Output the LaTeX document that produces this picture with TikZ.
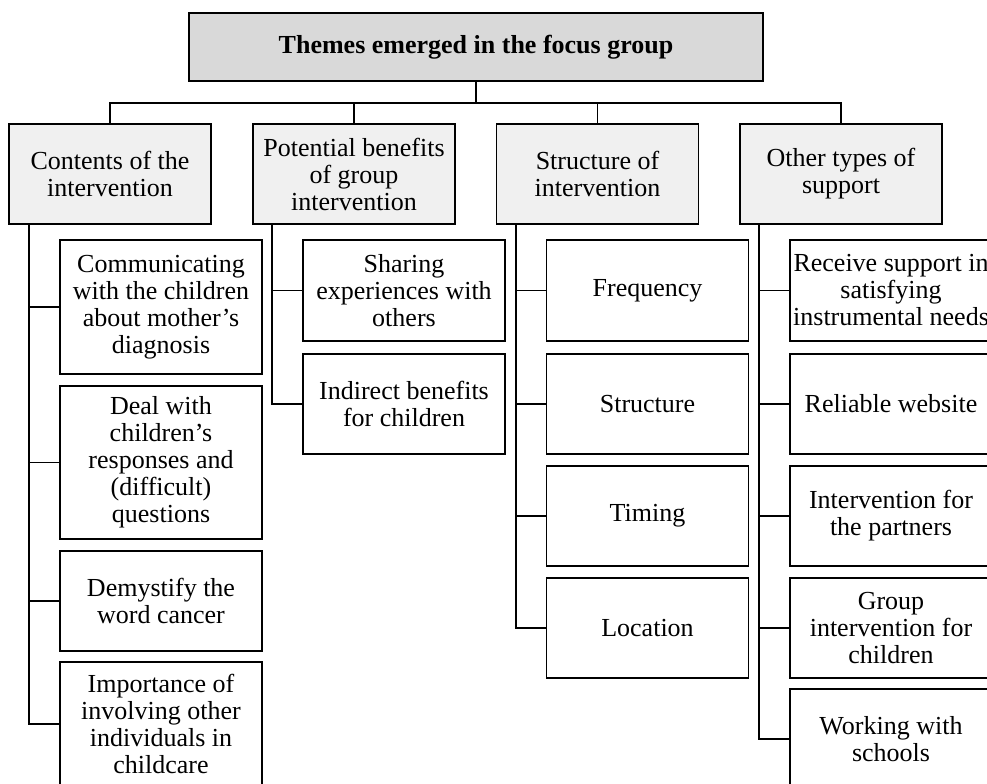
\documentclass[tikz,border=0pt]{standalone}
\usepackage{fontspec}
\setmainfont{Liberation Serif}
\usetikzlibrary{positioning}

\begin{document}
\begin{tikzpicture}[x=0.75pt, y=-0.75pt, line width=1.4pt,
	box/.style={draw, align=center, inner sep=2pt, font=\fontsize{19.5}{20.25}\selectfont},
	rootbox/.style={box, fill=black!15, minimum width=430.5pt, minimum height=51pt, font=\fontsize{19.5}{20.25}\selectfont\bfseries},
	themebox/.style={box, fill=black!6, minimum width=151.5pt, minimum height=75pt},
	itembox/.style={box, fill=white, minimum width=151.5pt, minimum height=75.5pt}]
	\path[use as bounding box, clip] (0,0) rectangle (987,783);
	% top level
	\node [rootbox] (root) at (476,47) {Themes emerged in the focus group};
	\coordinate (bus) at (476,103);
	\node [themebox] (tcont) at (110,174) {Contents of the\\intervention};
	\node [themebox] (tbenef) at (354,174) {Potential benefits\\of group\\intervention};
	\node [themebox] (tstruct) at (597.5,174) {Structure of\\intervention};
	\node [themebox] (tother) at (841,174) {Other types of\\support};
	\foreach \t in {tcont,tbenef,tstruct,tother}
		\draw (root.south) -- (bus) -| (\t.north);
	% contents
	\node [itembox, minimum height=100.5pt] (c1) at (161,307) {Communicating\\with the children\\about mother's\\diagnosis};
	\node [itembox, minimum height=114.75pt] (c2) at (161,462.5) {Deal with\\children's\\responses and\\(difficult)\\questions};
	\node [itembox] (c3) at (161,601) {Demystify the\\word cancer};
	\node [itembox, minimum height=93pt] (c4) at (161,724) {Importance of\\involving other\\individuals in\\childcare};
	\foreach \c in {c1,c2,c3,c4}
		\draw ([xshift=15.75pt]tcont.south west) |- (\c.west);
	% benefits
	\node [itembox] (b1) at (404,290.5) {Sharing\\experiences with\\others};
	\node [itembox] (b2) at (404,404) {Indirect benefits\\for children};
	\foreach \c in {b1,b2}
		\draw ([xshift=15pt]tbenef.south west) |- (\c.west);
	% structure
	\node [itembox] (s1) at (647.5,290.5) {Frequency};
	\node [itembox] (s2) at (647.5,404) {Structure};
	\node [itembox] (s3) at (647.5,516) {Timing};
	\node [itembox] (s4) at (647.5,628) {Location};
	\foreach \c in {s1,s2,s3,s4}
		\draw ([xshift=15pt]tstruct.south west) |- (\c.west);
	% other support
	\node [itembox] (o1) at (891,290.5) {Receive support in\\satisfying\\instrumental needs};
	\node [itembox] (o2) at (891,404) {Reliable website};
	\node [itembox] (o3) at (891,516) {Intervention for\\the partners};
	\node [itembox] (o4) at (891,628) {Group\\intervention for\\children};
	\node [itembox] (o5) at (891,739) {Working with\\schools};
	\foreach \c in {o1,o2,o3,o4,o5}
		\draw ([xshift=15pt]tother.south west) |- (\c.west);
\end{tikzpicture}
\end{document}
